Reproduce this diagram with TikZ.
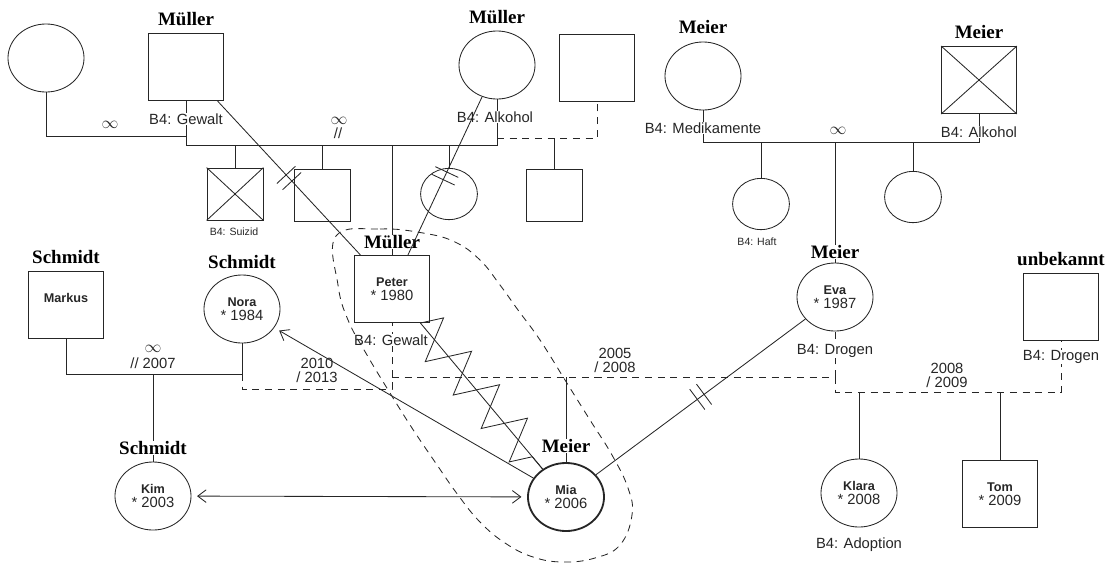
\documentclass[tikz,border=0pt]{standalone}
\usepackage{fontspec}
\setmainfont{Liberation Serif}
\setsansfont{Liberation Sans}
\usetikzlibrary{arrows.meta,shapes.geometric,decorations.pathmorphing,decorations.markings}

\newcommand{\pname}[1]{{\fontsize{9}{10}\selectfont\bfseries #1}}

\begin{document}
\begin{tikzpicture}[x=0.025cm,y=-0.025cm,color=black!85,line width=0.6pt,
  every node/.style={inner sep=1pt,font=\sffamily\fontsize{10.5}{10}\selectfont},
  male/.style={rectangle,draw,minimum width=1.875cm,minimum height=1.68cm,align=center},
  female/.style={ellipse,draw,minimum width=1.9cm,minimum height=1.7cm,align=center},
  smale/.style={rectangle,draw,minimum width=1.4cm,minimum height=1.3cm},
  sfemale/.style={ellipse,draw,minimum width=1.42cm,minimum height=1.28cm},
  fam/.style={fill=white,inner sep=0.5pt,text=black,font=\rmfamily\bfseries\fontsize{13.5}{14}\selectfont},
  note/.style={fill=white,inner sep=0.5pt},
  tiny/.style={font=\sffamily\fontsize{7.5}{8}\selectfont},
  yrs/.style={align=center},
  wed/.style={font=\fontsize{12.5}{12}\selectfont},
  loose/.style={dash pattern=on 5pt off 4pt},
  cut/.style={postaction={decorate,decoration={markings,mark=at position 0.5 with {
      \draw (-3pt,-9pt) -- (-3pt,9pt) (3pt,-9pt) -- (3pt,9pt);}}}},
  barb/.style={-{Straight Barb[length=6pt,width=9pt]}}]

  \useasboundingbox (0,0) rectangle (1113,568);

  % grandparents and their children (Mueller)
  \node[female] (gmL) at (46,58) {};
  \node[male] (gfM) at (186,67) {};
  \node[female] (gmM) at (497,65) {};
  \node[male] (exM) at (597,68) {};
  \node[smale] (suiz) at (235,194) {};
  \node[smale] (sonM) at (322,195) {};
  \node[sfemale] (dauM) at (449,194) {};
  \node[smale] (halfM) at (554,195) {};
  \node[male] (peter) at (392,289) {\pname{Peter}\\{*} 1980};

  % grandparents and their children (Meier)
  \node[female] (gmMe) at (703,76) {};
  \node[male] (gfMe) at (979,80) {};
  \node[sfemale] (haft) at (761,204) {};
  \node[sfemale] (dauMe) at (913,197) {};
  \node[female] (eva) at (835,297) {\pname{Eva}\\{*} 1987};
  \node[male] (unb) at (1061,307) {};

  % Schmidt
  \node[male] (markus) at (66,305) {\pname{Markus}\\\mbox{}};
  \node[female] (nora) at (242,309) {\pname{Nora}\\{*} 1984};
  \node[female] (kim) at (153,496) {\pname{Kim}\\{*} 2003};

  % youngest generation
  \node[female,line width=1.3pt] (mia) at (566,497) {\pname{Mia}\\{*} 2006};
  \node[female] (klara) at (859,493) {\pname{Klara}\\{*} 2008};
  \node[male] (tom) at (1000,494) {\pname{Tom}\\{*} 2009};

  % deceased
  \draw (suiz.north west) -- (suiz.south east) (suiz.south west) -- (suiz.north east);
  \draw (gfMe.north west) -- (gfMe.south east) (gfMe.south west) -- (gfMe.north east);

  % junctions
  \coordinate (j1) at (186,136);
  \coordinate (j2) at (186,145);
  \coordinate (j3) at (497,145);
  \coordinate (j4) at (497,138);
  \coordinate (j5) at (979,142);
  \coordinate (j6) at (242,374);
  \coordinate (j7) at (392,389);
  \coordinate (j8) at (392,377);
  \coordinate (j9) at (1061,392);

  % partnerships and descent
  \draw (gmL.south) |- (j1);
  \draw (gfM.south) -- (j2) -- (j3) -- (gmM.south);
  \draw[loose] (j4) -| (exM.south);
  \foreach \k in {suiz,sonM,dauM,peter} \draw (\k.north) -- (\k.north |- j2);
  \draw (halfM.north) -- (halfM.north |- j4);
  \draw (gmMe.south) |- (j5) -- (gfMe.south);
  \foreach \k in {haft,eva,dauMe} \draw (\k.north) -- (\k.north |- j5);
  \draw (markus.south) |- (j6) -- (nora.south);
  \draw (kim.north) -- (kim.north |- j6);
  \draw[loose] (j6) |- (j7) -- (peter.south);
  \draw[loose] (j8) -| (eva.south);
  \draw (mia.north) -- (mia.north |- j8);
  \draw[loose] (eva.south |- j8) |- (j9) -- (unb.south);
  \foreach \k in {klara,tom} \draw (\k.north) -- (\k.north |- j9);

  % family names
  \node[fam] (lgfM) at (186,19) {Müller};
  \node[fam] (lgmM) at (497,17) {Müller};
  \node[fam] (lgmMe) at (703,27) {Meier};
  \node[fam] (lgfMe) at (979,32) {Meier};
  \node[fam] (lpeter) at (392,242) {Müller};
  \node[fam] (lmarkus) at (66,257) {Schmidt};
  \node[fam] (lnora) at (242,262) {Schmidt};
  \node[fam] (lkim) at (153,448) {Schmidt};
  \node[fam] (leva) at (835,252) {Meier};
  \node[fam] (lmia) at (566,446) {Meier};
  \node[fam] (lunb) at (1061,259) {unbekannt};

  % B4 notes
  \node[note] (bgfM) at (186,119) {B4: Gewalt};
  \node[note] (bgmM) at (495,117) {B4: Alkohol};
  \node[note] (bgmMe) at (703,128) {B4: Medikamente};
  \node[note] (bgfMe) at (979,132) {B4: Alkohol};
  \node[note] (bpeter) at (391,340) {B4: Gewalt};
  \node[note] (beva) at (835,351) {B4: Drogen};
  \node[note] (bunb) at (1061,357) {B4: Drogen};
  \node[note] (bklara) at (859,545) {B4: Adoption};
  \node[tiny] (bsuiz) at (234,232) {B4: Suizid};
  \node[tiny] (bhaft) at (757,242) {B4: Haft};

  % marriage marks and years
  \node[wed] (inf1) at (110,125) {$\infty$};
  \node[wed] (inf2) at (339,121) {$\infty$};
  \node (div2) at (338,133) {//};
  \node[wed] (inf3) at (838,131) {$\infty$};
  \node[wed] (inf4) at (153,349) {$\infty$};
  \node (div4) at (153,363) {// 2007};
  \node[yrs] (ynora) at (317,370) {2010\\/ 2013};
  \node[yrs] (yeva) at (615,360) {2005\\/ 2008};
  \node[yrs] (yunb) at (947,375) {2008\\/ 2009};

  % relations
  \draw[cut] (gfM) -- (peter);
  \draw[cut] (gmM) -- (peter);
  \draw[cut] (mia) -- (eva);
  \draw[barb,shorten >=4pt] (mia) -- (nora);
  \draw[{Straight Barb[length=6pt,width=9pt]}-{Straight Barb[length=6pt,width=9pt]},
    shorten <=4pt,shorten >=4pt] (kim) -- (mia);
  \draw (peter) -- (mia);
  \draw[decorate,decoration={zigzag,segment length=31pt,amplitude=15pt}] (peter) -- (mia);

  % household
  \draw[loose] plot[smooth cycle,tension=0.7] coordinates {(336,236) (380,229) (423,233)
    (455,242) (480,260) (500,285) (518,310) (540,340) (565,380) (590,420) (612,455)
    (628,488) (632,515) (620,545) (595,558) (563,562) (533,557) (505,543) (480,522)
    (458,495) (435,462) (412,428) (390,393) (367,355) (348,320) (338,285)};
\end{tikzpicture}
\end{document}
